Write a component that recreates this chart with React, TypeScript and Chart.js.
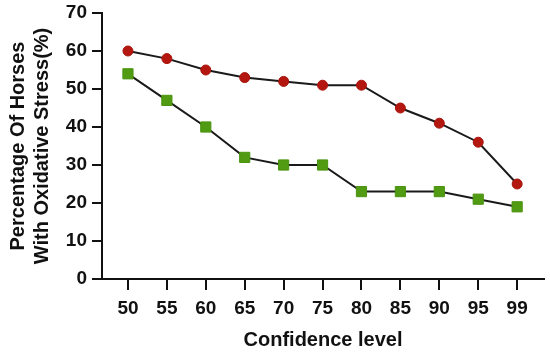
import React, { useEffect, useRef } from 'react';
import { Chart, registerables } from 'chart.js';

Chart.register(...registerables);

const categories = ['50', '55', '60', '65', '70', '75', '80', '85', '90', '95', '99'];
const redSeries = [60, 58, 55, 53, 52, 51, 51, 45, 41, 36, 25];
const greenSeries = [54, 47, 40, 32, 30, 30, 23, 23, 23, 21, 19];
const yTicks = [0, 10, 20, 30, 40, 50, 60, 70];
const yTitle = ['Percentage Of Horses', 'With Oxidative Stress(%)'];
const xTitle = 'Confidence level';

const FONT = "'Liberation Sans', Arial, Helvetica, sans-serif";

export default function App() {
  const ref = useRef<HTMLCanvasElement | null>(null);

  useEffect(() => {
    const canvas = ref.current;
    if (!canvas) return;
    const chart = new Chart(canvas, {
      type: 'line',
      data: {
        datasets: [
          {
            label: 'A',
            data: redSeries.map((v, i) => ({ x: i, y: v })),
            borderColor: '#1a1a1a',
            borderWidth: 2,
            pointStyle: 'circle',
            pointRadius: 5,
            pointBorderWidth: 1,
            pointBackgroundColor: '#b3170f',
            pointBorderColor: '#a8140c',
            tension: 0,
          },
          {
            label: 'B',
            data: greenSeries.map((v, i) => ({ x: i, y: v })),
            borderColor: '#1a1a1a',
            borderWidth: 2,
            pointStyle: 'rect',
            pointRadius: 7.2,
            pointBorderWidth: 1,
            pointBackgroundColor: '#509b12',
            pointBorderColor: '#4a9310',
            tension: 0,
          },
        ],
      },
      options: {
        responsive: false,
        animation: false,
        layout: { autoPadding: false, padding: { top: 13, right: 6, left: 0, bottom: 0 } },
        plugins: {
          legend: { display: false },
          tooltip: { enabled: false },
        },
        scales: {
          x: {
            type: 'linear',
            min: -0.667,
            max: 10.69,
            afterBuildTicks: (scale: any) => {
              scale.ticks = categories.map((_, i) => ({ value: i }));
            },
            afterFit: (scale: any) => {
              scale.height = 75;
              scale.paddingLeft = 0;
              scale.paddingRight = 0;
            },
            ticks: {
              callback: (v: any) => categories[Math.round(Number(v))] ?? '',
              color: '#111',
              padding: 7,
              maxRotation: 0,
              autoSkip: false,
              font: { family: FONT, size: 19, weight: 'bold' },
            },
            grid: {
              display: true,
              drawOnChartArea: false,
              drawTicks: true,
              tickLength: 11,
              color: '#111',
              lineWidth: 2,
            },
            border: { display: true, color: '#111', width: 2 },
            title: {
              display: true,
              text: xTitle,
              color: '#111',
              padding: { top: 0, bottom: 2 },
              font: { family: FONT, size: 20, weight: 'bold', lineHeight: 1.2 },
            },
          },
          y: {
            type: 'linear',
            min: 0,
            max: 70,
            afterBuildTicks: (scale: any) => {
              scale.ticks = yTicks.map((v) => ({ value: v }));
            },
            afterFit: (scale: any) => {
              scale.width = 102;
              scale.paddingTop = 0;
              scale.paddingBottom = 0;
            },
            ticks: {
              color: '#111',
              padding: 5,
              font: { family: FONT, size: 19, weight: 'bold' },
            },
            grid: {
              display: true,
              drawOnChartArea: false,
              drawTicks: true,
              tickLength: 10,
              color: '#111',
              lineWidth: 2,
            },
            border: { display: true, color: '#111', width: 2 },
            title: {
              display: true,
              text: yTitle,
              color: '#111',
              padding: { top: 6, bottom: 0 },
              font: { family: FONT, size: 20, weight: 'bold', lineHeight: 1.2 },
            },
          },
        },
      },
    } as any);
    return () => chart.destroy();
  }, []);

  return (
    <div style={{ position: 'fixed', left: 0, top: 0, width: 550, height: 354, background: '#fff' }}>
      <canvas ref={ref} width={550} height={354} style={{ display: 'block' }} />
    </div>
  );
}
